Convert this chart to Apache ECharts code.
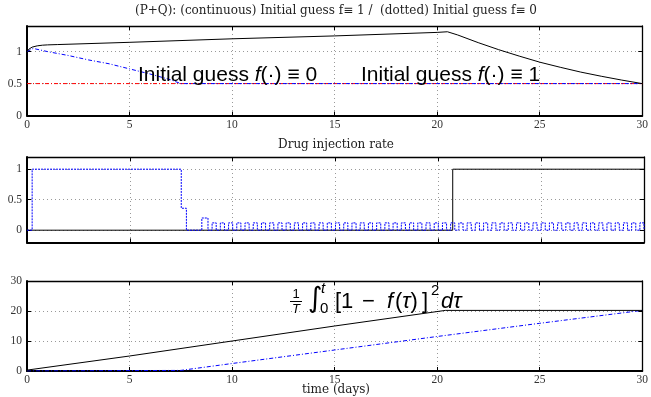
<!DOCTYPE html>
<html>
<head>
<meta charset="utf-8">
<script src="https://cdn.jsdelivr.net/npm/echarts@6/dist/echarts.min.js"></script>
<style>
  html, body { margin: 0; padding: 0; background: #fff; }
  #chart { width: 651px; height: 397px; }
</style>
</head>
<body>
<div id="chart"></div>
<script>
// top panel: (P+Q)
const topBlackT = [0, 0.1, 0.25, 0.5, 0.75, 1, 1.5, 2, 5, 10, 15, 20, 20.5, 21, 22, 23, 24, 25, 26, 27, 28, 29, 30];
const topBlackY = [1, 1.04, 1.07, 1.09, 1.10, 1.105, 1.11, 1.115, 1.145, 1.20, 1.245, 1.30, 1.31, 1.26, 1.14, 1.03, 0.93, 0.835, 0.755, 0.68, 0.615, 0.555, 0.50];
const topBlueT = [0, 0.3, 1, 2, 3, 4, 5, 6, 7, 7.5, 30];
const topBlueY = [1, 1.05, 1.0, 0.94, 0.87, 0.81, 0.73, 0.65, 0.56, 0.5, 0.5];
const refT = [0, 30];
const refY = [0.5, 0.5];

// middle panel: drug injection rate
const injBlackT = [0, 20.7, 30];
const injBlackY = [0, 1, 1];
const injBlueT = [0, 0.25, 7.5, 7.75, 8.5, 8.8,
  9.0, 9.2, 9.4, 9.6, 9.8,
  10.0, 10.2, 10.4, 10.6, 10.8,
  11.0, 11.2, 11.4, 11.6, 11.8,
  12.0, 12.2, 12.4, 12.6, 12.8,
  13.0, 13.2, 13.4, 13.6, 13.8,
  14.0, 14.2, 14.4, 14.6, 14.8,
  15.0, 15.2, 15.4, 15.6, 15.8,
  16.0, 16.2, 16.4, 16.6, 16.8,
  17.0, 17.2, 17.4, 17.6, 17.8,
  18.0, 18.2, 18.4, 18.6, 18.8,
  19.0, 19.2, 19.4, 19.6, 19.8,
  20.0, 20.2, 20.4, 20.6, 20.8,
  21.0, 21.2, 21.4, 21.6, 21.8,
  22.0, 22.2, 22.4, 22.6, 22.8,
  23.0, 23.2, 23.4, 23.6, 23.8,
  24.0, 24.2, 24.4, 24.6, 24.8,
  25.0, 25.2, 25.4, 25.6, 25.8,
  26.0, 26.2, 26.4, 26.6, 26.8,
  27.0, 27.2, 27.4, 27.6, 27.8,
  28.0, 28.2, 28.4, 28.6, 28.8,
  29.0, 29.2, 29.4, 29.6, 29.8,
  30.0];
const injBlueY = [0, 1, 0.36, 0, 0.2, 0,
  0.12, 0, 0.12, 0, 0.12,
  0, 0.12, 0, 0.12, 0,
  0.12, 0, 0.12, 0, 0.12,
  0, 0.12, 0, 0.12, 0,
  0.12, 0, 0.12, 0, 0.12,
  0, 0.12, 0, 0.12, 0,
  0.12, 0, 0.12, 0, 0.12,
  0, 0.12, 0, 0.12, 0,
  0.12, 0, 0.12, 0, 0.12,
  0, 0.12, 0, 0.12, 0,
  0.12, 0, 0.12, 0, 0.12,
  0, 0.12, 0, 0.12, 0,
  0.12, 0, 0.12, 0, 0.12,
  0, 0.12, 0, 0.12, 0,
  0.12, 0, 0.12, 0, 0.12,
  0, 0.12, 0, 0.12, 0,
  0.12, 0, 0.12, 0, 0.12,
  0, 0.12, 0, 0.12, 0,
  0.12, 0, 0.12, 0, 0.12,
  0, 0.12, 0, 0.12, 0,
  0.12, 0, 0.12, 0, 0.12,
  0];

// bottom panel: cost integral
const costBlackT = [0, 5, 10, 15, 20.4, 30];
const costBlackY = [0.3, 5, 10, 15, 20.2, 20.2];
const costBlueT = [0, 7.5, 10, 15, 20, 25, 30];
const costBlueY = [0, 0.2, 2.5, 7, 11.5, 15.9, 20.2];

const xTicks = [0, 5, 10, 15, 20, 25, 30];
const yTicksTop = [0, 0.5, 1];
const yTicksMid = [0, 0.5, 1];
const yTicksBot = [0, 10, 20, 30];

const zip = (t, y) => t.map((v, i) => [v, y[i]]);

const tickFont = { fontFamily: 'Liberation Serif', fontSize: 11.5, color: '#333' };
const dashDot = [4, 2, 1, 2];

const grids = [
  { left: 27, right: 7, top: 26, height: 89.6 },
  { left: 27, right: 7, top: 157, height: 85.4 },
  { left: 27, right: 7, top: 281, height: 90 }
];

const xAxes = [];
const yAxes = [];
const yRanges = [[0, 1.4, yTicksTop], [-0.2, 1.2, yTicksMid], [0, 30, yTicksBot]];

grids.forEach((g, i) => {
  xAxes.push({
    type: 'value', gridIndex: i, position: 'bottom', min: 0, max: 30,
    axisLine: { show: true, onZero: false, lineStyle: { color: '#000', width: 2 } },
    axisTick: { show: true, inside: true, length: 4, customValues: xTicks, lineStyle: { color: '#000' } },
    axisLabel: { show: i !== 1, customValues: xTicks, margin: 3, ...tickFont },
    splitLine: { show: true, lineStyle: { color: '#999', type: [1, 3], width: 1 } }
  });
  xAxes.push({
    type: 'value', gridIndex: i, position: 'top', min: 0, max: 30,
    axisLine: { show: true, onZero: false, lineStyle: { color: '#000', width: 1.3 } },
    axisTick: { show: true, inside: true, length: 4, customValues: xTicks, lineStyle: { color: '#000' } },
    axisLabel: { show: false },
    splitLine: { show: false }
  });
  const [mn, mx, ticks] = yRanges[i];
  yAxes.push({
    type: 'value', gridIndex: i, position: 'left', min: mn, max: mx,
    axisLine: { show: true, onZero: false, lineStyle: { color: '#000', width: 2 } },
    axisTick: { show: true, inside: true, length: 4, customValues: ticks, lineStyle: { color: '#000' } },
    axisLabel: { show: true, customValues: ticks, margin: 5, ...tickFont },
    splitLine: { show: true, lineStyle: { color: '#999', type: [1, 3], width: 1 } }
  });
  yAxes.push({
    type: 'value', gridIndex: i, position: 'right', min: mn, max: mx,
    axisLine: { show: true, onZero: false, lineStyle: { color: '#000', width: 1.3 } },
    axisTick: { show: true, inside: true, length: 4, customValues: ticks, lineStyle: { color: '#000' } },
    axisLabel: { show: false },
    splitLine: { show: false }
  });
});

function line(panel, t, y, color, type, extra) {
  return Object.assign({
    type: 'line', xAxisIndex: panel * 2, yAxisIndex: panel * 2,
    data: zip(t, y), showSymbol: false, symbol: 'none', silent: true,
    lineStyle: { color: color, width: 1, type: type }
  }, extra || {});
}

const titleStyle = { fontFamily: 'DejaVu Serif', fontSize: 12, fontWeight: 'normal', color: '#222' };
const annFont = 'Liberation Sans';
const annRich = {
  n: { fontFamily: annFont, fontSize: 21 },
  i: { fontFamily: annFont, fontSize: 21, fontStyle: 'italic' }
};

const chart = echarts.init(document.getElementById('chart'), null, { renderer: 'canvas' });
chart.setOption({
  animation: false,
  backgroundColor: '#fff',
  title: [
    { text: '(P+Q): (continuous) Initial guess f\u2261 1 /  (dotted) Initial guess f\u2261 0', left: 336, textAlign: 'center', top: 5, padding: 0, textStyle: titleStyle },
    { text: 'Drug injection rate', left: 336, textAlign: 'center', top: 139, padding: 0, textStyle: titleStyle },
    { text: 'time (days)', left: 336, textAlign: 'center', top: 384, padding: 0, textStyle: titleStyle }
  ],
  grid: grids,
  xAxis: xAxes,
  yAxis: yAxes,
  series: [
    line(0, refT, refY, '#ff0000', dashDot),
    line(0, topBlueT, topBlueY, '#0000ff', dashDot),
    line(0, topBlackT, topBlackY, '#000', 'solid'),
    line(1, injBlackT, injBlackY, '#000', 'solid', { step: 'end' }),
    line(1, injBlueT, injBlueY, '#0000ff', [2, 1], { step: 'end' }),
    line(2, costBlueT, costBlueY, '#0000ff', dashDot),
    line(2, costBlackT, costBlackY, '#000', 'solid')
  ],
  graphic: [
    { type: 'text', z: 100, style: { x: 138, y: 75, verticalAlign: 'middle', fill: '#000',
      text: '{n|Initial guess }{i|f}{n|(\u00b7) \u2261 0}', rich: annRich } },
    { type: 'text', z: 100, style: { x: 361, y: 75, verticalAlign: 'middle', fill: '#000',
      text: '{n|Initial guess }{i|f}{n|(\u00b7) \u2261 1}', rich: annRich } },
    // 1/T integral formula
    { type: 'text', z: 100, style: { x: 296, y: 294, align: 'center', verticalAlign: 'middle', text: '1', font: '13px Liberation Sans', fill: '#000' } },
    { type: 'line', z: 100, shape: { x1: 290, y1: 301.5, x2: 302, y2: 301.5 }, style: { stroke: '#000', lineWidth: 1 } },
    { type: 'text', z: 100, style: { x: 296, y: 309, align: 'center', verticalAlign: 'middle', text: 'T', font: 'italic 13px Liberation Sans', fill: '#000' } },
    { type: 'text', z: 100, style: { x: 308, y: 300, verticalAlign: 'middle', text: '\u222b', font: '28px DejaVu Sans', fill: '#000' } },
    { type: 'text', z: 100, style: { x: 321, y: 289, verticalAlign: 'middle', text: 't', font: 'italic 15px Liberation Sans', fill: '#000' } },
    { type: 'text', z: 100, style: { x: 320, y: 309, verticalAlign: 'middle', text: '0', font: '15px Liberation Sans', fill: '#000' } },
    { type: 'text', z: 100, style: { x: 335, y: 302, verticalAlign: 'middle', text: '[1', font: '22px Liberation Sans', fill: '#000' } },
    { type: 'text', z: 100, style: { x: 362, y: 302, verticalAlign: 'middle', text: '\u2212', font: '22px Liberation Sans', fill: '#000' } },
    { type: 'text', z: 100, style: { x: 387, y: 302, verticalAlign: 'middle', text: 'f', font: 'italic 22px Liberation Sans', fill: '#000' } },
    { type: 'text', z: 100, style: { x: 395, y: 302, verticalAlign: 'middle', text: '{n|(}{i|\u03c4}{n|)}', rich: { n: { fontFamily: annFont, fontSize: 22 }, i: { fontFamily: annFont, fontSize: 22, fontStyle: 'italic' } }, fill: '#000' } },
    { type: 'text', z: 100, style: { x: 422, y: 302, verticalAlign: 'middle', text: ']', font: '22px Liberation Sans', fill: '#000' } },
    { type: 'text', z: 100, style: { x: 431, y: 291, verticalAlign: 'middle', text: '2', font: '15px Liberation Sans', fill: '#000' } },
    { type: 'text', z: 100, style: { x: 441, y: 302, verticalAlign: 'middle', text: 'd\u03c4', font: 'italic 22px Liberation Sans', fill: '#000' } }
  ]
});
</script>
</body>
</html>
